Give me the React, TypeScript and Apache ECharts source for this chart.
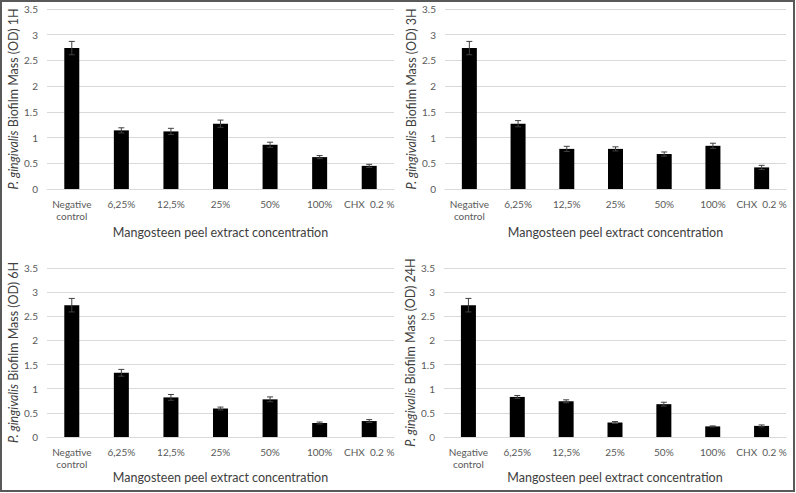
import React, { useEffect, useRef } from "react";
import * as echarts from "echarts";

const categories = ["Negative\ncontrol", "6,25%", "12,5%", "25%", "50%", "100%", "CHX  0.2 %"];
const yTicks = [0, 0.5, 1, 1.5, 2, 2.5, 3, 3.5];

const panelTitles = ["1H", "3H", "6H", "24H"];

const values1H = [2.74, 1.14, 1.12, 1.27, 0.86, 0.62, 0.45];
const errors1H = [0.13, 0.05, 0.06, 0.07, 0.05, 0.03, 0.03];

const values3H = [2.74, 1.27, 0.78, 0.78, 0.68, 0.84, 0.42];
const errors3H = [0.13, 0.06, 0.05, 0.04, 0.04, 0.05, 0.04];

const values6H = [2.73, 1.33, 0.82, 0.59, 0.78, 0.29, 0.33];
const errors6H = [0.14, 0.07, 0.06, 0.03, 0.05, 0.02, 0.03];

const values24H = [2.73, 0.83, 0.74, 0.3, 0.68, 0.22, 0.23];
const errors24H = [0.14, 0.03, 0.03, 0.02, 0.04, 0.01, 0.02];

const xTitle = "Mangosteen peel extract concentration";

const FONT = "Lato";

export default function App() {
  const ref = useRef<HTMLDivElement>(null);
  useEffect(() => {
    document.body.style.margin = "0";
    if (!ref.current) return;
    const chart = echarts.init(ref.current, undefined, { renderer: "svg" });
    const valuesList = [values1H, values3H, values6H, values24H];
    const errorsList = [errors1H, errors3H, errors6H, errors24H];
    const grids = [
      { left: 47, top: 9, width: 347, height: 180 },
      { left: 445, top: 9, width: 341, height: 180 },
      { left: 47, top: 268, width: 347, height: 169 },
      { left: 444, top: 268, width: 342, height: 169 },
    ];
    const xAxes: any[] = [];
    const yAxes: any[] = [];
    const series: any[] = [];
    grids.forEach((g, i) => {
      xAxes.push({
        type: "category",
        gridIndex: i,
        data: categories,
        axisLine: { show: true, lineStyle: { color: "#d9d9d9", width: 1 } },
        axisTick: { show: false },
        axisLabel: { color: "#595959", fontSize: 10, fontFamily: FONT, margin: 9, interval: 0, lineHeight: 12 },
        name: xTitle,
        nameLocation: "middle",
        nameGap: i < 2 ? 37 : 34,
        nameTextStyle: { color: "#404040", fontSize: 12.5, fontFamily: FONT },
      });
      yAxes.push({
        type: "value",
        gridIndex: i,
        min: 0,
        max: 3.5,
        interval: 0.5,
        axisLine: { show: false },
        axisTick: { show: false },
        splitLine: { lineStyle: { color: "#d9d9d9", width: 1 } },
        axisLabel: { color: "#595959", fontSize: 10, fontFamily: FONT, margin: 9 },
        name: "{it|P. gingivalis} {n|Biofilm Mass (OD) " + panelTitles[i] + "}",
        nameLocation: "middle",
        nameGap: 25,
        nameRotate: 90,
        nameTextStyle: {
          color: "#404040",
          fontSize: 12.5,
          fontFamily: FONT,
          rich: {
            it: { fontStyle: "italic", fontSize: 12.5, fontFamily: FONT, color: "#404040" },
            n: { fontSize: 12.5, fontFamily: FONT, color: "#404040" },
          },
        },
      });
      series.push({
        type: "bar",
        xAxisIndex: i,
        yAxisIndex: i,
        data: valuesList[i],
        barWidth: 15,
        itemStyle: { color: "#000000" },
        silent: true,
      });
      const errData = valuesList[i].map((v, k) => [k, v, errorsList[i][k]]);
      series.push({
        type: "custom",
        xAxisIndex: i,
        yAxisIndex: i,
        data: errData,
        silent: true,
        z: 5,
        renderItem: (params: any, api: any) => {
          const idx = api.value(0);
          const v = api.value(1);
          const e = api.value(2);
          const hi = api.coord([idx, v + e]);
          const lo = api.coord([idx, v - e]);
          const half = 3;
          const style = { stroke: "#404040", lineWidth: 1 };
          return {
            type: "group",
            children: [
              { type: "line", shape: { x1: hi[0], y1: hi[1], x2: lo[0], y2: lo[1] }, style },
              { type: "line", shape: { x1: hi[0] - half, y1: hi[1], x2: hi[0] + half, y2: hi[1] }, style },
              { type: "line", shape: { x1: lo[0] - half, y1: lo[1], x2: lo[0] + half, y2: lo[1] }, style },
            ],
          };
        },
      });
    });
    chart.setOption({
      animation: false,
      backgroundColor: "#ffffff",
      grid: grids,
      xAxis: xAxes,
      yAxis: yAxes,
      series,
      graphic: [
        {
          type: "rect",
          shape: { x: 1, y: 1, width: 793, height: 490 },
          style: { fill: "none", stroke: "#595959", lineWidth: 2 },
          z: 100,
        },
      ],
    });
    return () => chart.dispose();
  }, []);
  return <div ref={ref} style={{ width: 796, height: 493 }} />;
}
